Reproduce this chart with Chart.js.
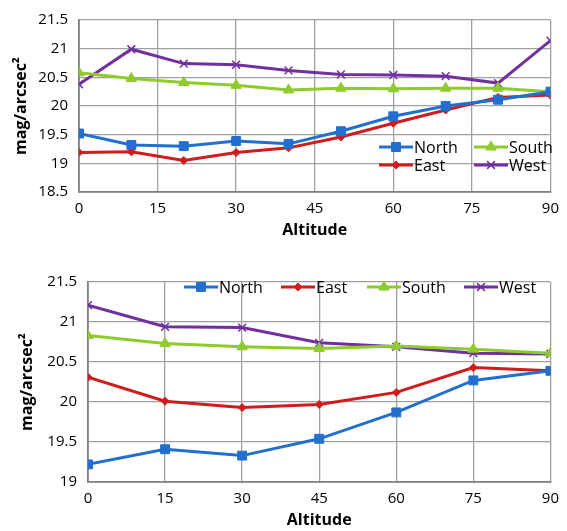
<!DOCTYPE html>
<html>
<head>
<meta charset="utf-8">
<script src="https://cdn.jsdelivr.net/npm/chart.js@4.4.1/dist/chart.umd.min.js"></script>
<style>
  html, body { margin: 0; padding: 0; background: #fff; }
  canvas { display: block; }
</style>
</head>
<body>
<canvas id="top" width="567" height="260"></canvas>
<canvas id="bottom" width="567" height="271"></canvas>
<script>
// data
const seriesNames = ['North', 'East', 'South', 'West'];
const xTicks = [0, 15, 30, 45, 60, 75, 90];

const topAlt   = [0, 10, 20, 30, 40, 50, 60, 70, 80, 90];
const topNorth = [19.52, 19.32, 19.30, 19.39, 19.34, 19.56, 19.82, 20.00, 20.11, 20.25];
const topEast  = [19.19, 19.20, 19.05, 19.19, 19.27, 19.46, 19.70, 19.93, 20.15, 20.19];
const topSouth = [20.58, 20.48, 20.41, 20.36, 20.28, 20.31, 20.30, 20.31, 20.31, 20.25];
const topWest  = [20.38, 20.99, 20.74, 20.72, 20.62, 20.55, 20.54, 20.52, 20.40, 21.14];

const botAlt   = [0, 15, 30, 45, 60, 75, 90];
const botNorth = [19.22, 19.41, 19.33, 19.54, 19.87, 20.27, 20.39];
const botEast  = [20.31, 20.01, 19.93, 19.97, 20.12, 20.43, 20.39];
const botSouth = [20.83, 20.73, 20.69, 20.67, 20.70, 20.66, 20.61];
const botWest  = [21.21, 20.94, 20.93, 20.74, 20.69, 20.61, 20.60];

const styles = {
  North: { color: '#2170d0', pointStyle: 'rect', radius: 6.3 },
  East:  { color: '#d01c1c', pointStyle: 'rectRot', radius: 4 },
  South: { color: '#8fcb2c', pointStyle: 'triangle', radius: 6 },
  West:  { color: '#7030a0', pointStyle: 'crossRot', radius: 5.5 }
};

const FONT = "'Open Sans', 'DejaVu Sans', sans-serif";

function makeDatasets(xs, lists) {
  return seriesNames.map((name, i) => {
    const s = styles[name];
    return {
      label: name,
      data: xs.map((x, j) => ({ x, y: lists[i][j] })),
      borderColor: s.color,
      backgroundColor: s.color,
      pointBackgroundColor: s.color,
      pointBorderColor: s.color,
      pointStyle: s.pointStyle,
      pointRadius: s.radius,
      pointBorderWidth: s.pointStyle === 'crossRot' ? 1.5 : 1,
      borderWidth: 3,
      tension: 0
    };
  });
}

// legend drawn at given spots inside the plot
const spotLegend = {
  id: 'spotLegend',
  afterDatasetsDraw(chart, args, opts) {
    const ctx = chart.ctx;
    ctx.save();
    ctx.font = '16px ' + FONT;
    ctx.textBaseline = 'middle';
    opts.items.forEach(it => {
      const ds = chart.data.datasets.find(d => d.label === it.label);
      ctx.strokeStyle = ds.borderColor;
      ctx.lineWidth = 3;
      ctx.beginPath();
      ctx.moveTo(it.x, it.y);
      ctx.lineTo(it.x + 34, it.y);
      ctx.stroke();
      ctx.fillStyle = ds.backgroundColor;
      ctx.lineWidth = ds.pointBorderWidth;
      Chart.helpers.drawPoint(ctx, {
        pointStyle: ds.pointStyle, rotation: 0, radius: ds.pointRadius, borderWidth: ds.pointBorderWidth
      }, it.x + 17, it.y);
      ctx.fillStyle = '#000';
      ctx.fillText(it.label, it.x + 35, it.y + 1);
    });
    ctx.restore();
  }
};

function makeOptions(yMin, yMax, leftW, pad, yTitlePad, legendItems) {
  return {
    responsive: false,
    animation: false,
    layout: { padding: pad },
    plugins: {
      legend: { display: false },
      tooltip: { enabled: false },
      spotLegend: { items: legendItems }
    },
    scales: {
      x: {
        type: 'linear', min: 0, max: 90,
        afterBuildTicks: (s) => { s.ticks = xTicks.map(v => ({ value: v })); },
        ticks: { color: '#000', font: { family: FONT, size: 15 }, padding: 8, maxRotation: 0 },
        grid: { color: '#a0a0a0', lineWidth: 1.3, tickLength: 0 },
        border: { color: '#808080', width: 1.8 },
        title: { display: true, text: 'Altitude', color: '#000', font: { family: FONT, size: 16, weight: 'bold' }, padding: { top: 0, bottom: 0 } },
        afterFit: (s) => { s.height = 48; }
      },
      y: {
        min: yMin, max: yMax,
        ticks: {
          stepSize: 0.5, color: '#000', font: { family: FONT, size: 15 }, padding: 11,
          callback: (v) => String(Math.round(v * 10) / 10)
        },
        grid: { color: '#a0a0a0', lineWidth: 1.3, tickLength: 0 },
        border: { color: '#808080', width: 1.8 },
        title: { display: true, text: 'mag/arcsec²', color: '#000', font: { family: FONT, size: 16, weight: 'bold' }, padding: { top: yTitlePad, bottom: 0 } },
        afterFit: (s) => { s.width = leftW; }
      }
    }
  };
}

new Chart(document.getElementById('top'), {
  type: 'line',
  data: { datasets: makeDatasets(topAlt, [topNorth, topEast, topSouth, topWest]) },
  options: makeOptions(18.5, 21.5, 79, { top: 16, right: 10, left: 0, bottom: 20 }, 12, [
    { label: 'North', x: 379, y: 147 },
    { label: 'South', x: 474, y: 147 },
    { label: 'East',  x: 379, y: 165 },
    { label: 'West',  x: 474, y: 165 }
  ]),
  plugins: [spotLegend]
});

new Chart(document.getElementById('bottom'), {
  type: 'line',
  data: { datasets: makeDatasets(botAlt, [botNorth, botEast, botSouth, botWest]) },
  options: makeOptions(19, 21.5, 88, { top: 22, right: 11, left: 0, bottom: 1 }, 18, [
    { label: 'North', x: 184, y: 27 },
    { label: 'East',  x: 281, y: 27 },
    { label: 'South', x: 367, y: 27 },
    { label: 'West',  x: 464, y: 27 }
  ]),
  plugins: [spotLegend]
});
</script>
</body>
</html>
